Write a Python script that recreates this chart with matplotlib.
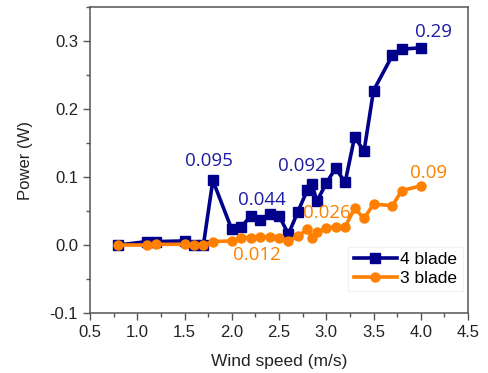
import matplotlib
matplotlib.use('Agg')
import matplotlib.pyplot as plt
from matplotlib.ticker import MultipleLocator

# wind speed (m/s)
x4 = [0.8, 1.1, 1.2, 1.5, 1.6, 1.7, 1.8, 2.0, 2.1, 2.2, 2.3, 2.4, 2.5, 2.6, 2.7,
      2.8, 2.85, 2.9, 3.0, 3.1, 3.2, 3.3, 3.4, 3.5, 3.7, 3.8, 4.0]
p4 = [0.0, 0.005, 0.005, 0.006, 0.0, 0.0, 0.095, 0.023, 0.027, 0.042, 0.037, 0.045,
      0.043, 0.016, 0.049, 0.081, 0.09, 0.064, 0.091, 0.113, 0.092, 0.159, 0.138,
      0.227, 0.279, 0.288, 0.29]

x3 = [0.8, 1.1, 1.2, 1.5, 1.6, 1.7, 1.8, 2.0, 2.1, 2.2, 2.3, 2.4, 2.5, 2.6, 2.7,
      2.8, 2.85, 2.9, 3.0, 3.1, 3.2, 3.3, 3.4, 3.5, 3.7, 3.8, 4.0]
p3 = [0.0, 0.0, 0.001, 0.001, 0.0, 0.0, 0.005, 0.006, 0.011, 0.011, 0.012, 0.012,
      0.011, 0.006, 0.013, 0.023, 0.011, 0.019, 0.025, 0.027, 0.027, 0.054, 0.039,
      0.06, 0.058, 0.08, 0.087]

# value labels: (text, x, y)
labels4 = [('0.095', 1.76, 0.123), ('0.044', 2.32, 0.066), ('0.092', 2.74, 0.116), ('0.29', 4.13, 0.313)]
labels3 = [('0.012', 2.27, -0.015), ('0.026', 3.01, 0.047), ('0.09', 4.08, 0.106)]

blue = '#00008B'
orange = '#FF8000'

plt.rcParams['font.family'] = ['Liberation Sans', 'DejaVu Sans']

fig = plt.figure(figsize=(4.88, 3.73), dpi=100)
ax = fig.add_axes([90 / 488, 1 - 313 / 373, 378 / 488, 306 / 373])

ax.plot(x4, p4, '-s', color=blue, lw=2.6, ms=6.5, label='4 blade')
ax.plot(x3, p3, '-o', color=orange, lw=2.6, ms=6.5, label='3 blade')

for t, x, y in labels4:
    ax.text(x, y, t, color='#1c1ca0', fontsize=13.5, family=['Open Sans', 'DejaVu Sans'],
            ha='center', va='center')
for t, x, y in labels3:
    ax.text(x, y, t, color=orange, fontsize=13.5, family=['Open Sans', 'DejaVu Sans'],
            ha='center', va='center')

ax.set_xlim(0.5, 4.5)
ax.set_ylim(-0.1, 0.35)
ax.xaxis.set_major_locator(MultipleLocator(0.5))
ax.xaxis.set_minor_locator(MultipleLocator(0.25))
ax.yaxis.set_minor_locator(MultipleLocator(0.05))
ax.set_yticks([-0.1, 0.0, 0.1, 0.2, 0.3])
ax.set_yticklabels(['-0.1', '0.0', '0.1', '0.2', '0.3'])
ax.tick_params(which='major', direction='out', length=5, width=1, color='#555555',
               labelsize=12, labelcolor='#222222')
ax.tick_params(which='minor', direction='out', length=3, width=1, color='#555555')
for s in ax.spines.values():
    s.set_color('#555555')
    s.set_linewidth(1.1)

ax.set_xlabel('Wind speed (m/s)', fontsize=12.5, color='#222222', labelpad=10)
ax.set_ylabel('Power (W)', fontsize=12, color='#222222', labelpad=12)

leg = ax.legend(loc='lower right', bbox_to_anchor=(0.995, 0.06), fontsize=12.5,
                frameon=True, fancybox=False, handlelength=2.5, handletextpad=0.2,
                borderpad=0.3, labelspacing=0.2, borderaxespad=0.2)
leg.get_frame().set_edgecolor('#eeeeee')
leg.get_frame().set_linewidth(0.8)

fig.savefig('out.png', dpi=100)
